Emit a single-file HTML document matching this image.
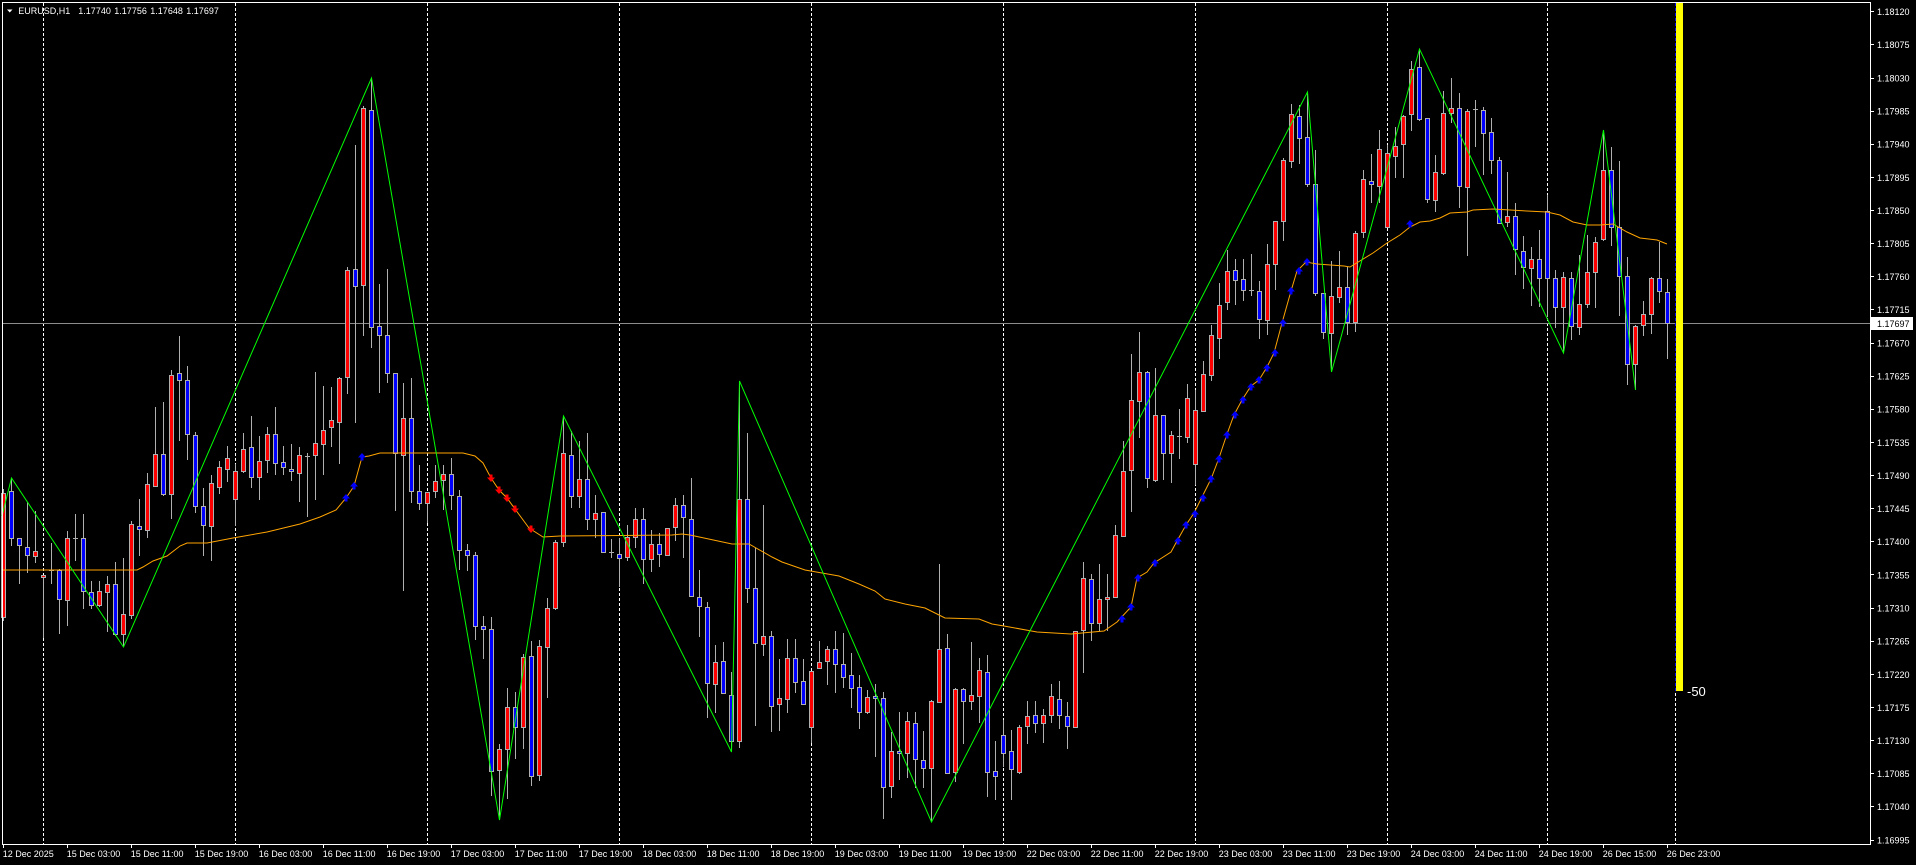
<!DOCTYPE html>
<html><head><meta charset="utf-8"><style>
html,body{margin:0;padding:0;background:#000;}
svg{display:block;}
text{font-family:"Liberation Sans",Arial,sans-serif;fill:#fff;}
</style></head><body>
<svg width="1916" height="865" viewBox="0 0 1916 865" xmlns="http://www.w3.org/2000/svg">
<defs>
<path id="ua" d="M0 -4L4 0.5L1.5 0.5L1.5 3.5L-1.5 3.5L-1.5 0.5L-4 0.5Z" fill="#0000ff"/>
<path id="da" d="M0 4L4 -0.5L1.5 -0.5L1.5 -3.5L-1.5 -3.5L-1.5 -0.5L-4 -0.5Z" fill="#ff0000"/>
</defs>
<rect x="0" y="0" width="1916" height="865" fill="#000"/>
<g stroke="#ffffff" stroke-width="1" stroke-dasharray="3 2" shape-rendering="crispEdges">
<line x1="43.5" y1="3" x2="43.5" y2="844"/>
<line x1="235.5" y1="3" x2="235.5" y2="844"/>
<line x1="427.5" y1="3" x2="427.5" y2="844"/>
<line x1="619.5" y1="3" x2="619.5" y2="844"/>
<line x1="811.5" y1="3" x2="811.5" y2="844"/>
<line x1="1003.5" y1="3" x2="1003.5" y2="844"/>
<line x1="1195.5" y1="3" x2="1195.5" y2="844"/>
<line x1="1387.5" y1="3" x2="1387.5" y2="844"/>
<line x1="1547.5" y1="3" x2="1547.5" y2="844"/>
<line x1="1675.5" y1="3" x2="1675.5" y2="844"/>
</g>
<line x1="2" y1="323.5" x2="1870" y2="323.5" stroke="#8c8c8c" stroke-width="1" shape-rendering="crispEdges"/>
<path shape-rendering="crispEdges" stroke="#b0b0b0" stroke-width="1" fill="none" d="M3.5 489V621M11.5 479V546M19.5 538V584M27.5 502V573M35.5 511V563M43.5 575V638M51.5 543V584M59.5 569V634M67.5 531V626M75.5 514V561M83.5 514V609M91.5 581V609M99.5 581V607M107.5 576V632M115.5 562V636M123.5 558V646M131.5 521V619M139.5 499V556M147.5 473V538M155.5 407V487M163.5 402V496M171.5 370V519M179.5 336V441M187.5 366V460M195.5 432V513M203.5 488V556M211.5 475V561M219.5 461V494M227.5 446V482M235.5 464V526M243.5 433V473M251.5 416V488M259.5 436V500M267.5 427V473M275.5 407V475M283.5 446V475M291.5 444V481M299.5 447V502M307.5 453V517M315.5 372V500M323.5 386V475M331.5 387V447M339.5 377V464M347.5 267V394M355.5 145V423M363.5 106V336M371.5 78V348M379.5 284V393M387.5 269V383M395.5 373V511M403.5 383V591M411.5 378V503M419.5 465V510M427.5 492V523M435.5 465V498M443.5 465V510M451.5 458V510M459.5 490V570M467.5 544V571M475.5 552V640M483.5 616V659M491.5 617V796M499.5 744V820M507.5 688V799M515.5 692V759M523.5 654V749M531.5 641V786M539.5 640V781M547.5 598V698M555.5 540V610M563.5 416V547M571.5 431V508M579.5 441V508M587.5 433V530M595.5 495V538M603.5 512V553M611.5 539V558M619.5 538V587M627.5 525V561M635.5 508V548M643.5 508V584M651.5 530V572M659.5 533V567M667.5 528V555M675.5 498V541M683.5 495V558M691.5 478V597M699.5 570V637M707.5 602V718M715.5 645V713M723.5 642V693M731.5 672V752M739.5 381V748M747.5 433V603M755.5 548V726M763.5 505V656M771.5 631V732M779.5 659V731M787.5 639V713M795.5 639V693M803.5 659V704M811.5 671V743M819.5 641V668M827.5 646V685M835.5 631V693M843.5 633V688M851.5 653V708M859.5 675V729M867.5 690V714M875.5 684V757M883.5 692V819M891.5 732V798M899.5 712V780M907.5 712V778M915.5 712V788M923.5 731V788M931.5 700V822M939.5 564V703M947.5 634V774M955.5 688V782M963.5 688V744M971.5 642V710M979.5 658V723M987.5 655V797M995.5 741V800M1003.5 720V767M1011.5 730V800M1019.5 725V774M1027.5 701V744M1035.5 701V733M1043.5 709V743M1051.5 684V723M1059.5 681V729M1067.5 702V749M1075.5 631V727M1083.5 562V673M1091.5 574V641M1099.5 564V631M1107.5 574V631M1115.5 525V598M1123.5 441V537M1131.5 354V512M1139.5 332V438M1147.5 371V488M1155.5 368V482M1163.5 415V480M1171.5 431V483M1179.5 409V459M1187.5 384V443M1195.5 390V485M1203.5 361V411M1211.5 325V381M1219.5 283V359M1227.5 250V310M1235.5 259V305M1243.5 259V301M1251.5 254V296M1259.5 281V339M1267.5 244V335M1275.5 221V290M1283.5 158V241M1291.5 104V168M1299.5 105V164M1307.5 92V187M1315.5 150V296M1323.5 293V339M1331.5 261V372M1339.5 251V303M1347.5 267V335M1355.5 231V332M1363.5 170V238M1371.5 154V203M1379.5 130V203M1387.5 145V227M1395.5 127V178M1403.5 115V178M1411.5 61V131M1419.5 49V121M1427.5 118V203M1435.5 155V212M1443.5 91V175M1451.5 78V123M1459.5 93V208M1467.5 109V256M1475.5 100V147M1483.5 107V175M1491.5 118V174M1499.5 157V223M1507.5 172V227M1515.5 203V275M1523.5 236V289M1531.5 247V306M1539.5 230V307M1547.5 195V317M1555.5 270V328M1563.5 272V353M1571.5 272V340M1579.5 255V335M1587.5 235V308M1595.5 237V308M1603.5 130V241M1611.5 147V246M1619.5 161V316M1627.5 257V385M1635.5 325V390M1643.5 301V336M1651.5 277V334M1659.5 242V303M1667.5 279V359"/>
<path shape-rendering="crispEdges" stroke="#b0b0b0" stroke-width="1" fill="none" d="M49 570.5h5M73 538.5h5M305 456.5h5M609 552.5h5M1177 436.5h5M1249 290.5h5M1473 109.5h5"/>
<path shape-rendering="crispEdges" stroke="#b0b0b0" stroke-width="1" fill="#ff0000" d="M1.5 493.5h4V617.5h-4ZM33.5 551.5h4V556.5h-4ZM41.5 575.5h4V577.5h-4ZM65.5 538.5h4V600.5h-4ZM97.5 591.5h4V605.5h-4ZM105.5 584.5h4V592.5h-4ZM121.5 614.5h4V634.5h-4ZM129.5 524.5h4V615.5h-4ZM145.5 484.5h4V530.5h-4ZM153.5 454.5h4V486.5h-4ZM169.5 375.5h4V494.5h-4ZM209.5 483.5h4V526.5h-4ZM217.5 467.5h4V487.5h-4ZM225.5 458.5h4V469.5h-4ZM233.5 471.5h4V499.5h-4ZM241.5 449.5h4V471.5h-4ZM257.5 461.5h4V477.5h-4ZM265.5 434.5h4V460.5h-4ZM297.5 455.5h4V473.5h-4ZM313.5 443.5h4V455.5h-4ZM321.5 430.5h4V444.5h-4ZM329.5 420.5h4V427.5h-4ZM337.5 378.5h4V422.5h-4ZM345.5 270.5h4V377.5h-4ZM361.5 108.5h4V285.5h-4ZM401.5 418.5h4V455.5h-4ZM425.5 492.5h4V503.5h-4ZM433.5 481.5h4V491.5h-4ZM441.5 474.5h4V480.5h-4ZM497.5 749.5h4V770.5h-4ZM505.5 707.5h4V749.5h-4ZM521.5 657.5h4V727.5h-4ZM537.5 646.5h4V775.5h-4ZM545.5 608.5h4V647.5h-4ZM553.5 542.5h4V608.5h-4ZM561.5 453.5h4V542.5h-4ZM577.5 479.5h4V496.5h-4ZM593.5 513.5h4V519.5h-4ZM625.5 537.5h4V557.5h-4ZM633.5 519.5h4V537.5h-4ZM649.5 544.5h4V559.5h-4ZM665.5 528.5h4V555.5h-4ZM673.5 505.5h4V527.5h-4ZM713.5 662.5h4V684.5h-4ZM737.5 499.5h4V741.5h-4ZM761.5 636.5h4V644.5h-4ZM777.5 698.5h4V704.5h-4ZM785.5 658.5h4V699.5h-4ZM809.5 671.5h4V727.5h-4ZM817.5 662.5h4V668.5h-4ZM825.5 649.5h4V661.5h-4ZM865.5 697.5h4V712.5h-4ZM889.5 751.5h4V786.5h-4ZM905.5 721.5h4V753.5h-4ZM929.5 701.5h4V768.5h-4ZM937.5 649.5h4V702.5h-4ZM953.5 689.5h4V772.5h-4ZM969.5 695.5h4V701.5h-4ZM977.5 670.5h4V696.5h-4ZM1017.5 727.5h4V772.5h-4ZM1025.5 716.5h4V726.5h-4ZM1041.5 715.5h4V723.5h-4ZM1049.5 696.5h4V715.5h-4ZM1073.5 631.5h4V727.5h-4ZM1081.5 578.5h4V630.5h-4ZM1097.5 599.5h4V623.5h-4ZM1105.5 597.5h4V599.5h-4ZM1113.5 535.5h4V597.5h-4ZM1121.5 471.5h4V536.5h-4ZM1129.5 400.5h4V470.5h-4ZM1137.5 372.5h4V401.5h-4ZM1153.5 415.5h4V480.5h-4ZM1169.5 435.5h4V453.5h-4ZM1185.5 398.5h4V437.5h-4ZM1193.5 410.5h4V464.5h-4ZM1201.5 374.5h4V411.5h-4ZM1209.5 335.5h4V375.5h-4ZM1217.5 305.5h4V338.5h-4ZM1225.5 271.5h4V302.5h-4ZM1265.5 264.5h4V320.5h-4ZM1273.5 221.5h4V264.5h-4ZM1281.5 160.5h4V221.5h-4ZM1289.5 114.5h4V161.5h-4ZM1329.5 296.5h4V333.5h-4ZM1337.5 287.5h4V297.5h-4ZM1353.5 233.5h4V322.5h-4ZM1361.5 179.5h4V232.5h-4ZM1377.5 149.5h4V186.5h-4ZM1385.5 153.5h4V227.5h-4ZM1393.5 146.5h4V156.5h-4ZM1401.5 116.5h4V144.5h-4ZM1409.5 69.5h4V114.5h-4ZM1433.5 172.5h4V200.5h-4ZM1441.5 113.5h4V173.5h-4ZM1449.5 108.5h4V113.5h-4ZM1465.5 111.5h4V187.5h-4ZM1505.5 216.5h4V222.5h-4ZM1529.5 259.5h4V268.5h-4ZM1561.5 277.5h4V307.5h-4ZM1577.5 304.5h4V327.5h-4ZM1585.5 272.5h4V304.5h-4ZM1593.5 242.5h4V272.5h-4ZM1601.5 170.5h4V239.5h-4ZM1633.5 326.5h4V364.5h-4ZM1641.5 314.5h4V325.5h-4ZM1649.5 278.5h4V314.5h-4Z"/>
<path shape-rendering="crispEdges" stroke="#b0b0b0" stroke-width="1" fill="#0000ff" d="M9.5 491.5h4V538.5h-4ZM17.5 538.5h4V545.5h-4ZM25.5 547.5h4V555.5h-4ZM57.5 570.5h4V599.5h-4ZM81.5 538.5h4V591.5h-4ZM89.5 592.5h4V605.5h-4ZM113.5 584.5h4V634.5h-4ZM137.5 526.5h4V529.5h-4ZM161.5 454.5h4V494.5h-4ZM177.5 373.5h4V380.5h-4ZM185.5 380.5h4V434.5h-4ZM193.5 435.5h4V506.5h-4ZM201.5 506.5h4V525.5h-4ZM249.5 447.5h4V477.5h-4ZM273.5 434.5h4V463.5h-4ZM281.5 462.5h4V467.5h-4ZM289.5 469.5h4V471.5h-4ZM353.5 269.5h4V286.5h-4ZM369.5 110.5h4V327.5h-4ZM377.5 326.5h4V335.5h-4ZM385.5 335.5h4V373.5h-4ZM393.5 373.5h4V453.5h-4ZM409.5 418.5h4V491.5h-4ZM417.5 491.5h4V503.5h-4ZM449.5 474.5h4V495.5h-4ZM457.5 496.5h4V550.5h-4ZM465.5 550.5h4V555.5h-4ZM473.5 555.5h4V626.5h-4ZM481.5 626.5h4V629.5h-4ZM489.5 629.5h4V771.5h-4ZM513.5 707.5h4V727.5h-4ZM529.5 656.5h4V776.5h-4ZM569.5 455.5h4V496.5h-4ZM585.5 479.5h4V519.5h-4ZM601.5 512.5h4V552.5h-4ZM617.5 554.5h4V558.5h-4ZM641.5 519.5h4V559.5h-4ZM657.5 544.5h4V554.5h-4ZM681.5 505.5h4V517.5h-4ZM689.5 519.5h4V596.5h-4ZM697.5 597.5h4V606.5h-4ZM705.5 607.5h4V683.5h-4ZM721.5 661.5h4V693.5h-4ZM729.5 695.5h4V741.5h-4ZM745.5 499.5h4V588.5h-4ZM753.5 588.5h4V643.5h-4ZM769.5 636.5h4V706.5h-4ZM793.5 658.5h4V682.5h-4ZM801.5 681.5h4V704.5h-4ZM833.5 649.5h4V664.5h-4ZM841.5 664.5h4V677.5h-4ZM849.5 675.5h4V688.5h-4ZM857.5 687.5h4V712.5h-4ZM873.5 696.5h4V698.5h-4ZM881.5 698.5h4V787.5h-4ZM897.5 751.5h4V753.5h-4ZM913.5 723.5h4V759.5h-4ZM921.5 760.5h4V768.5h-4ZM945.5 648.5h4V773.5h-4ZM961.5 689.5h4V701.5h-4ZM985.5 672.5h4V772.5h-4ZM993.5 771.5h4V776.5h-4ZM1001.5 735.5h4V753.5h-4ZM1009.5 751.5h4V769.5h-4ZM1033.5 715.5h4V723.5h-4ZM1057.5 699.5h4V715.5h-4ZM1065.5 716.5h4V726.5h-4ZM1089.5 579.5h4V623.5h-4ZM1145.5 372.5h4V478.5h-4ZM1161.5 415.5h4V453.5h-4ZM1233.5 270.5h4V280.5h-4ZM1241.5 279.5h4V290.5h-4ZM1257.5 291.5h4V319.5h-4ZM1297.5 116.5h4V138.5h-4ZM1305.5 137.5h4V184.5h-4ZM1313.5 184.5h4V293.5h-4ZM1321.5 293.5h4V332.5h-4ZM1345.5 287.5h4V322.5h-4ZM1369.5 181.5h4V184.5h-4ZM1417.5 67.5h4V119.5h-4ZM1425.5 118.5h4V199.5h-4ZM1457.5 108.5h4V186.5h-4ZM1481.5 110.5h4V133.5h-4ZM1489.5 132.5h4V160.5h-4ZM1497.5 160.5h4V223.5h-4ZM1513.5 216.5h4V249.5h-4ZM1521.5 251.5h4V267.5h-4ZM1537.5 259.5h4V278.5h-4ZM1545.5 211.5h4V278.5h-4ZM1553.5 278.5h4V307.5h-4ZM1569.5 278.5h4V326.5h-4ZM1609.5 170.5h4V227.5h-4ZM1617.5 227.5h4V276.5h-4ZM1625.5 276.5h4V364.5h-4ZM1657.5 278.5h4V291.5h-4ZM1665.5 292.5h4V323.5h-4Z"/>
<polyline fill="none" stroke="#ffa500" stroke-width="1" points="2,570 137,570 143,567 153,561 167,556 180,546 187,543 207,543 233,538 267,532 300,524 320,517 336,510 346,498 354,486 362,457 369,456 380,453 463,453 475,456 483,463 491,478 499,490 507,498 515,509 529,528 543,537 560,536 672,535 682,534 690,535 732,544 749,544 772,557 782,562 805,570 822,573 839,576 859,584 875,591 885,599 905,604 925,608 945,618 979,619 992,624 1004,626 1037,632 1071,634 1104,631 1117,622 1131,607 1137,578 1147,572 1154,563 1171,552 1177,541 1186,525 1194,513 1202,497 1211,479 1219,458 1227,434 1234,415 1242,400 1251,386 1259,380 1267,367 1274,353 1282,323 1291,291 1297,271 1306,262 1317,264 1344,266 1350,267 1373,253 1387,243 1400,235 1410,227 1420,222 1430,221 1440,218 1450,213 1467,212 1473,210 1493,209 1527,211 1547,212 1560,215 1573,222 1587,225 1600,225 1613,224 1627,232 1640,238 1657,240 1667,244"/>
<polyline fill="none" stroke="#00ff00" stroke-width="1" points="2,516 11.5,478 123.5,647 371.5,78 499.5,820 563.5,416 731.5,752 739.5,381 931.5,822 1307.5,92 1331.5,372 1419.5,49 1563.5,353 1603.5,130 1635.5,390"/>
<g>
<use href="#ua" x="346" y="498"/><use href="#ua" x="354" y="486"/><use href="#ua" x="362" y="457"/>
<use href="#ua" x="1122" y="619"/><use href="#ua" x="1131" y="607"/><use href="#ua" x="1138" y="578"/><use href="#ua" x="1155" y="563"/><use href="#ua" x="1178" y="541"/><use href="#ua" x="1186" y="525"/><use href="#ua" x="1195" y="514"/><use href="#ua" x="1203" y="498"/><use href="#ua" x="1211" y="479"/><use href="#ua" x="1219" y="459"/><use href="#ua" x="1227" y="435"/><use href="#ua" x="1235" y="415"/><use href="#ua" x="1243" y="400"/><use href="#ua" x="1251" y="387"/><use href="#ua" x="1259" y="380"/><use href="#ua" x="1267" y="368"/><use href="#ua" x="1275" y="353"/><use href="#ua" x="1283" y="323"/><use href="#ua" x="1291" y="291"/><use href="#ua" x="1299" y="271"/><use href="#ua" x="1307" y="262"/>
<use href="#ua" x="1410" y="224"/>
<use href="#da" x="491" y="478"/><use href="#da" x="499" y="490"/><use href="#da" x="507" y="498"/><use href="#da" x="515" y="509"/><use href="#da" x="531" y="529"/>
</g>
<rect x="1676" y="3" width="7" height="688" fill="#ffff00"/>
<line x1="1675.5" y1="3" x2="1675.5" y2="691" stroke="#0000ff" stroke-width="1" stroke-dasharray="3 2" shape-rendering="crispEdges"/>
<text x="1687" y="696" style="font-size:13px">-50</text>
<g stroke="#ffffff" stroke-width="1" fill="none" shape-rendering="crispEdges">
<path d="M2.5 2.5H1870.5V844.5H2.5Z"/>
</g>
<path stroke="#ffffff" stroke-width="1" shape-rendering="crispEdges" d="M1870 11.5h4M1870 44.5h4M1870 78.5h4M1870 111.5h4M1870 144.5h4M1870 177.5h4M1870 210.5h4M1870 243.5h4M1870 276.5h4M1870 309.5h4M1870 343.5h4M1870 376.5h4M1870 409.5h4M1870 442.5h4M1870 475.5h4M1870 508.5h4M1870 541.5h4M1870 574.5h4M1870 608.5h4M1870 641.5h4M1870 674.5h4M1870 707.5h4M1870 740.5h4M1870 773.5h4M1870 806.5h4M1870 840.5h4M1870 323.5h4"/>
<path stroke="#ffffff" stroke-width="1" shape-rendering="crispEdges" d="M3.5 844v4M67.5 844v4M131.5 844v4M195.5 844v4M259.5 844v4M323.5 844v4M387.5 844v4M451.5 844v4M515.5 844v4M579.5 844v4M643.5 844v4M707.5 844v4M771.5 844v4M835.5 844v4M899.5 844v4M963.5 844v4M1027.5 844v4M1091.5 844v4M1155.5 844v4M1219.5 844v4M1283.5 844v4M1347.5 844v4M1411.5 844v4M1475.5 844v4M1539.5 844v4M1603.5 844v4M1667.5 844v4"/>
<g style="font-size:9px">
<text x="1877" y="15">1.18120</text>
<text x="1877" y="48">1.18075</text>
<text x="1877" y="81.5">1.18030</text>
<text x="1877" y="114.5">1.17985</text>
<text x="1877" y="147.5">1.17940</text>
<text x="1877" y="181">1.17895</text>
<text x="1877" y="214">1.17850</text>
<text x="1877" y="247">1.17805</text>
<text x="1877" y="280">1.17760</text>
<text x="1877" y="313">1.17715</text>
<text x="1877" y="346.5">1.17670</text>
<text x="1877" y="379.5">1.17625</text>
<text x="1877" y="412.5">1.17580</text>
<text x="1877" y="446">1.17535</text>
<text x="1877" y="479">1.17490</text>
<text x="1877" y="512">1.17445</text>
<text x="1877" y="545">1.17400</text>
<text x="1877" y="578.5">1.17355</text>
<text x="1877" y="611.5">1.17310</text>
<text x="1877" y="644.5">1.17265</text>
<text x="1877" y="678">1.17220</text>
<text x="1877" y="711">1.17175</text>
<text x="1877" y="744">1.17130</text>
<text x="1877" y="777">1.17085</text>
<text x="1877" y="810">1.17040</text>
<text x="1877" y="843.5">1.16995</text>
</g>
<rect x="1871" y="317" width="42" height="13" fill="#ffffff"/>
<text x="1877" y="327" style="font-size:9px;fill:#000">1.17697</text>
<g style="font-size:9px">
<text x="2.7" y="857">12 Dec 2025</text>
<text x="66.7" y="857">15 Dec 03:00</text>
<text x="130.7" y="857">15 Dec 11:00</text>
<text x="194.7" y="857">15 Dec 19:00</text>
<text x="258.7" y="857">16 Dec 03:00</text>
<text x="322.7" y="857">16 Dec 11:00</text>
<text x="386.7" y="857">16 Dec 19:00</text>
<text x="450.7" y="857">17 Dec 03:00</text>
<text x="514.7" y="857">17 Dec 11:00</text>
<text x="578.7" y="857">17 Dec 19:00</text>
<text x="642.7" y="857">18 Dec 03:00</text>
<text x="706.7" y="857">18 Dec 11:00</text>
<text x="770.7" y="857">18 Dec 19:00</text>
<text x="834.7" y="857">19 Dec 03:00</text>
<text x="898.7" y="857">19 Dec 11:00</text>
<text x="962.7" y="857">19 Dec 19:00</text>
<text x="1026.7" y="857">22 Dec 03:00</text>
<text x="1090.7" y="857">22 Dec 11:00</text>
<text x="1154.7" y="857">22 Dec 19:00</text>
<text x="1218.7" y="857">23 Dec 03:00</text>
<text x="1282.7" y="857">23 Dec 11:00</text>
<text x="1346.7" y="857">23 Dec 19:00</text>
<text x="1410.7" y="857">24 Dec 03:00</text>
<text x="1474.7" y="857">24 Dec 11:00</text>
<text x="1538.7" y="857">24 Dec 19:00</text>
<text x="1602.7" y="857">26 Dec 15:00</text>
<text x="1666.7" y="857">26 Dec 23:00</text>
</g>
<polygon points="7,9.5 12.5,9.5 9.75,12.5" fill="#ffffff"/>
<g style="font-size:9px">
<text x="18.3" y="14">EURUSD,H1</text>
<text x="78.3" y="14">1.17740</text>
<text x="114.3" y="14">1.17756</text>
<text x="150.3" y="14">1.17648</text>
<text x="186.3" y="14">1.17697</text>
</g>
</svg>
</body></html>
